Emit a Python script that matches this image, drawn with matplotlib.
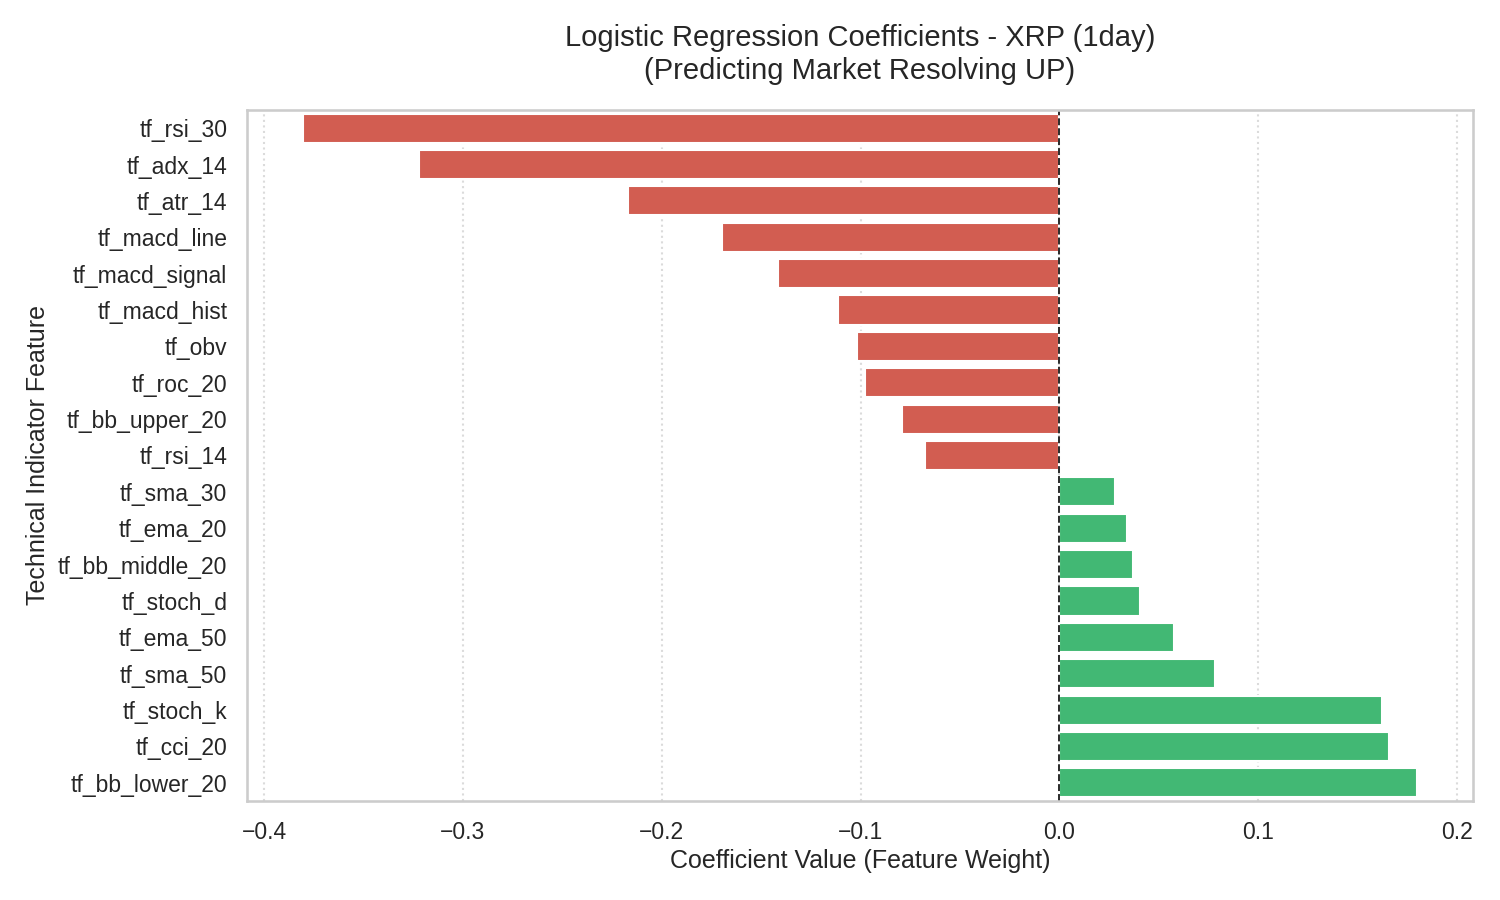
import matplotlib
matplotlib.use("Agg")
import matplotlib.pyplot as plt
import seaborn as sns
import pandas as pd

features = ["tf_rsi_30", "tf_adx_14", "tf_atr_14", "tf_macd_line", "tf_macd_signal",
            "tf_macd_hist", "tf_obv", "tf_roc_20", "tf_bb_upper_20", "tf_rsi_14",
            "tf_sma_30", "tf_ema_20", "tf_bb_middle_20", "tf_stoch_d", "tf_ema_50",
            "tf_sma_50", "tf_stoch_k", "tf_cci_20", "tf_bb_lower_20"]
coefficients = [-0.3804, -0.3220, -0.2169, -0.1696, -0.1414,
                -0.1112, -0.1016, -0.0976, -0.0790, -0.0674,
                0.0277, 0.0342, 0.0372, 0.0403, 0.0574,
                0.0780, 0.1620, 0.1660, 0.1796]

sns.set_theme(style="whitegrid")
plt.rcParams['font.family'] = ['Liberation Sans', 'DejaVu Sans']

df = pd.DataFrame({"feature": features, "coef": coefficients})
df["sign"] = ["neg" if c < 0 else "pos" for c in df["coef"]]

fig, ax = plt.subplots(figsize=(10, 6), dpi=150)
sns.barplot(data=df, x="coef", y="feature", hue="sign", dodge=False,
            palette={"neg": "#e74c3c", "pos": "#2ecc71"}, saturation=0.75,
            legend=False, ax=ax)
ax.axvline(0, color="#222222", linestyle="--", linewidth=0.9)
ax.grid(False)
ax.grid(axis="x", linestyle=":", alpha=0.7)
ax.set_axisbelow(True)
ax.set_title("Logistic Regression Coefficients - XRP (1day)\n(Predicting Market Resolving UP)",
             fontsize=14, pad=15)
ax.set_xlabel("Coefficient Value (Feature Weight)", fontsize=12, labelpad=2.5)
ax.set_ylabel("Technical Indicator Feature", fontsize=12)
ax.tick_params(labelsize=11)
ax.set_xlim(-0.4086, 0.208)
ax.set_ylim(len(features) - 0.5, -0.5)
fig.subplots_adjust(left=0.1647, right=0.982, top=0.8778, bottom=0.11)
fig.savefig("out.png", dpi=150)
